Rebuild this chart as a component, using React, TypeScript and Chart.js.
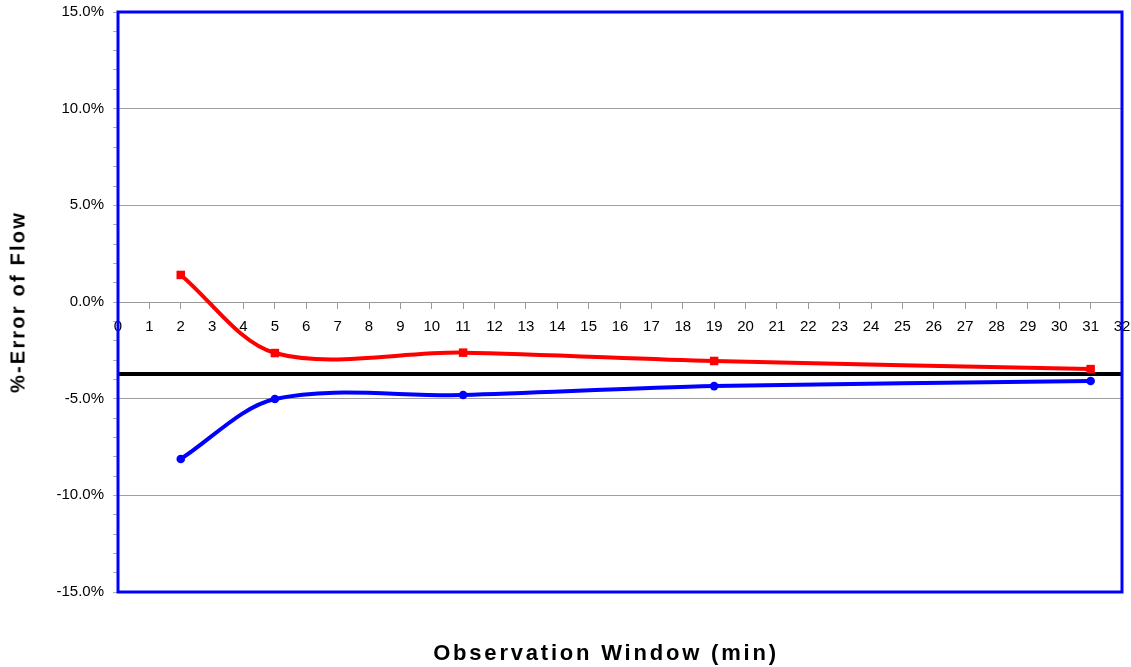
import React, { useEffect, useRef } from "react";
import { Chart, registerables } from "chart.js";

Chart.register(...registerables);

const windowMin = [2, 5, 11, 19, 31];
const upperError = [1.4, -2.64, -2.62, -3.05, -3.47];
const lowerError = [-8.12, -5.02, -4.81, -4.35, -4.09];
const refLineX = [0, 32];
const refLineY = [-3.72, -3.72];
const yTicksLabeled = [-15, -10, -5, 0, 5, 10, 15];

const toPts = (xs: number[], ys: number[]) => xs.map((x, i) => ({ x, y: ys[i] }));

const borderPlugin = {
  id: "plotBorder",
  afterDraw(chart: any) {
    const { ctx, chartArea } = chart;
    ctx.save();
    ctx.strokeStyle = "#0000ff";
    ctx.lineWidth = 3;
    ctx.strokeRect(chartArea.left, chartArea.top, chartArea.right - chartArea.left, chartArea.bottom - chartArea.top);
    ctx.restore();
  },
};

export default function App() {
  const ref = useRef<HTMLCanvasElement | null>(null);
  useEffect(() => {
    const chart = new Chart(ref.current as HTMLCanvasElement, {
      type: "scatter",
      data: {
        datasets: [
          {
            data: toPts(windowMin, upperError),
            showLine: true,
            borderColor: "#ff0000",
            backgroundColor: "#ff0000",
            borderWidth: 4,
            tension: 0.32,
            pointStyle: "rect",
            pointRadius: 6,
            pointBorderWidth: 0,
          },
          {
            data: toPts(windowMin, lowerError),
            showLine: true,
            borderColor: "#0000ff",
            backgroundColor: "#0000ff",
            borderWidth: 4,
            tension: 0.32,
            pointStyle: "circle",
            pointRadius: 4.3,
            pointBorderWidth: 0,
          },
          {
            data: toPts(refLineX, refLineY),
            showLine: true,
            borderColor: "#000000",
            backgroundColor: "#000000",
            borderWidth: 4,
            pointRadius: 0,
          },
        ],
      },
      options: {
        animation: false,
        responsive: false,
        maintainAspectRatio: false,
        layout: { padding: { left: 0, top: 12, right: 9, bottom: 75 } },
        plugins: { legend: { display: false }, tooltip: { enabled: false } },
        scales: {
          x: {
            type: "linear",
            position: { y: 0 } as any,
            min: 0,
            max: 32,
            afterFit: (scale: any) => {
              scale.paddingLeft = 0;
              scale.paddingRight = 0;
            },
            ticks: {
              stepSize: 1,
              color: "#000",
              font: { family: "Arial, 'Liberation Sans', sans-serif", size: 15 },
              padding: 10,
              maxRotation: 0,
              autoSkip: false,
            },
            grid: { drawOnChartArea: false, drawTicks: true, tickLength: 6, tickColor: "#999" },
            border: { display: true, color: "#999", width: 1 },
          },
          y: {
            type: "linear",
            min: -15,
            max: 15,
            afterFit: (scale: any) => {
              scale.width = 118;
              scale.paddingTop = 0;
              scale.paddingBottom = 0;
            },
            ticks: {
              stepSize: 1,
              color: "#000",
              font: { family: "Arial, 'Liberation Sans', sans-serif", size: 15 },
              padding: 9,
              autoSkip: false,
              callback: (v: any) => (yTicksLabeled.includes(Number(v)) ? Number(v).toFixed(1) + "%" : ""),
            },
            grid: {
              color: (c: any) => (c.tick && Math.round(c.tick.value) % 5 === 0 ? "#a0a0a0" : "rgba(0,0,0,0)"),
              tickColor: "#b0b0b0",
              tickLength: 5,
              lineWidth: 1,
            },
            border: { display: false },
          },
        },
      },
      plugins: [borderPlugin],
    } as any);
    return () => chart.destroy();
  }, []);

  return (
    <div style={{ position: "fixed", left: 0, top: 0, width: 1131, height: 667, background: "#fff" }}>
      <canvas ref={ref} width={1131} height={667} style={{ position: "absolute", left: 0, top: 0 }} />
      <div
        style={{
          position: "absolute",
          left: 18,
          top: 302,
          transform: "translate(-50%, -50%) rotate(-90deg)",
          fontFamily: "Arial, 'Liberation Sans', sans-serif",
          fontWeight: "bold",
          fontSize: 20,
          letterSpacing: 2.2,
          whiteSpace: "nowrap",
          color: "#000",
        }}
      >
        %-Error of Flow
      </div>
      <div
        style={{
          position: "absolute",
          left: 606,
          top: 653,
          transform: "translate(-50%, -50%)",
          fontFamily: "Arial, 'Liberation Sans', sans-serif",
          fontWeight: "bold",
          fontSize: 22,
          letterSpacing: 2.8,
          whiteSpace: "nowrap",
          color: "#000",
        }}
      >
        Observation Window (min)
      </div>
    </div>
  );
}
